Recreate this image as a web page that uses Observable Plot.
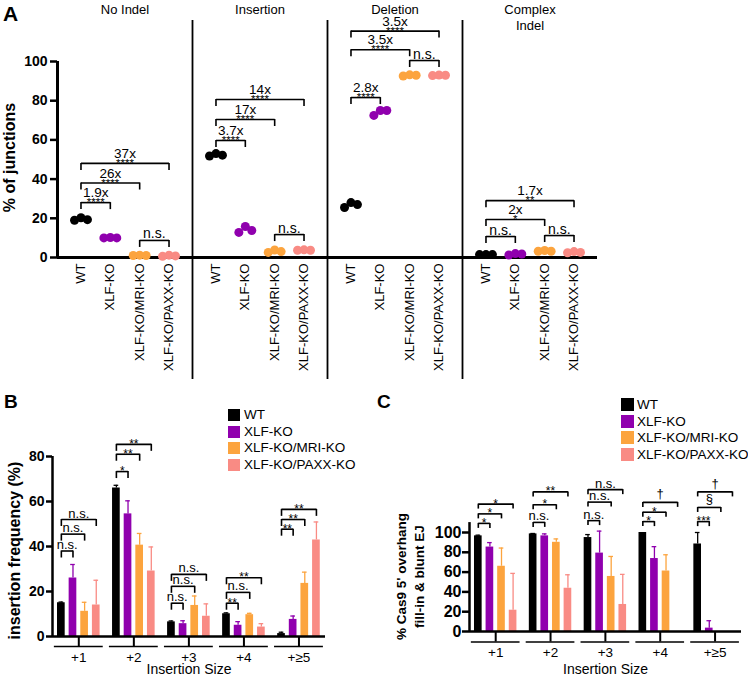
<!DOCTYPE html>
<html><head><meta charset="utf-8">
<script src="https://cdn.jsdelivr.net/npm/d3@7"></script>
<script src="https://cdn.jsdelivr.net/npm/@observablehq/plot@0.6"></script>
<style>
body{margin:0;background:#fff;}
#root{position:relative;width:748px;height:676px;overflow:hidden;font-family:"Liberation Sans",Arial,Helvetica,sans-serif;color:#000;background:#fff;}
.letter{position:absolute;font-weight:bold;line-height:1;}
.legend{position:absolute;}
.legend .item{position:absolute;left:0;display:flex;align-items:center;white-space:nowrap;line-height:12px;}
</style></head>
<body><div id="root"></div>
<script>
// ---------- shared ----------
const genotypes = ["WT", "XLF-KO", "XLF-KO/MRI-KO", "XLF-KO/PAXX-KO"];
const genotypeColors = ["#000000", "#9000AE", "#FCA43E", "#F98B84"];

// ---------- Panel A : % of junctions (3 replicates per genotype) ----------
const junctionClasses = ["No Indel", "Insertion", "Deletion", "Complex Indel"];
const noIndel      = [[19, 20.3, 19.3], [10, 10.2, 10], [1, 1.2, 1], [0.6, 1.2, 0.8]];
const insertion    = [[51.8, 53, 52.2], [12.8, 15.8, 13.8], [2.6, 3.8, 3], [3.7, 3.9, 3.7]];
const deletion     = [[25.5, 28, 27], [72.5, 75, 75], [92.6, 93.2, 93], [92.8, 93.1, 93]];
const complexIndel = [[1.5, 1.5, 1.5], [1.3, 2, 1.8], [3.2, 3.6, 3.2], [2.4, 3, 2.6]];
// comparisons (genotype index pairs) and their bracket heights / labels
const pairsA = [[0, 1], [0, 2], [0, 3], [2, 3]];
const noIndelBracketY = [28, 38, 48, 8.7];
const noIndelFold = ["1.9x", "26x", "37x", ""];
const noIndelSig = ["****", "****", "****", "n.s."];
const insertionBracketY = [59.7, 70.4, 80.6, 11.7];
const insertionFold = ["3.7x", "17x", "14x", ""];
const insertionSig = ["****", "****", "****", "n.s."];
const deletionBracketY = [81.6, 106, 115.5, 100.5];
const deletionFold = ["2.8x", "3.5x", "3.5x", ""];
const deletionSig = ["****", "****", "****", "n.s."];
const complexBracketY = [10.7, 19.4, 29, 11.2];
const complexFold = ["", "2x", "1.7x", ""];
const complexSig = ["n.s.", "*", "**", "n.s."];

// ---------- Panel B : insertion frequency (%) ----------
const insertionSizes = ["+1", "+2", "+3", "+4", "+\u22655"];
const freqMean = [
  [15, 66, 6.5, 10.1, 1.3],     // WT
  [26, 54.5, 5.7, 5, 7.6],      // XLF-KO
  [11.2, 40.6, 13.8, 9.7, 23.6],// XLF-KO/MRI-KO
  [14, 29.1, 9, 4.2, 42.9]      // XLF-KO/PAXX-KO
];
const freqSD = [
  [0.3, 1.2, 0.4, 0.4, 0.6],
  [6, 5.8, 1.3, 1.6, 1.5],
  [4, 5.2, 4.2, 0.6, 5],
  [11, 10.7, 5.5, 1.5, 8]
];
const freqBracketY = [[38, 73.3, 14.8, 14.8, 47.7], [45.5, 81, 22.3, 19.6, 52], [52, 85.4, 27.6, 26.1, 56.5]];
const freqSig = [["n.s.", "*", "n.s.", "**", "**"], ["n.s.", "**", "n.s.", "n.s.", "**"], ["n.s.", "**", "n.s.", "**", "**"]];

// ---------- Panel C : % Cas9 5' overhang fill-in & blunt EJ ----------
const fillMean = [
  [96.6, 98.6, 94.9, 100, 88.4],
  [85.3, 96.6, 79.2, 73.7, 3.4],
  [65.9, 90.1, 55.6, 61.1, null],
  [21.5, 43.7, 27.3, null, null]
];
const fillSD = [
  [0.7, 0.4, 3, 0, 11.6],
  [4.5, 2, 22.2, 12, 7.5],
  [18.4, 3.4, 20.2, 16.4, null],
  [37.2, 13.6, 30.4, null, null]
];
const fillBracketY = [[109.2, 110.2, 112, 111, 111], [118.8, 128, 130.7, 120.5, 125.3], [128.7, 141, 143.3, 130.4, 141]];
const fillSig = [["*", "n.s.", "n.s.", "*", "***"], ["*", "*", "n.s.", "*", "\u00a7"], ["*", "**", "n.s.", "\u2020", "\u2020"]];

// ---------- helpers ----------
const FONT = '"Liberation Sans", Arial, Helvetica, sans-serif';
const root = document.getElementById("root");
const color = {domain: genotypes, range: genotypeColors};
function place(node, left, top) {
  node.style.position = "absolute"; node.style.left = left + "px"; node.style.top = top + "px";
  root.appendChild(node);
}
const kind = s => s === "n.s." ? "ns" : /^\*+$/.test(s) ? "star" : "sym";
const plotStyle = {fontFamily: FONT, fontSize: "13px", background: "transparent", color: "black", overflow: "visible"};

// ---------- Panel A ----------
const classValues = [noIndel, insertion, deletion, complexIndel];
const classBracketY = [noIndelBracketY, insertionBracketY, deletionBracketY, complexBracketY];
const classFold = [noIndelFold, insertionFold, deletionFold, complexFold];
const classSig = [noIndelSig, insertionSig, deletionSig, complexSig];

const dotsA = classValues.flatMap((vals, ci) => vals.flatMap((reps, gi) =>
  reps.map((v, r) => ({cls: junctionClasses[ci], genotype: genotypes[gi], gi, r, value: v}))));
const bracketsA = junctionClasses.flatMap((cls, ci) => pairsA.map(([a, b], k) =>
  ({cls, from: a, to: b, y: classBracketY[ci][k], fold: classFold[ci][k], sig: classSig[ci][k]})));

const xA = [-0.8, 3.8];
const plotA = Plot.plot({
  width: 620, height: 380,
  marginLeft: 57, marginRight: 23, marginTop: 61, marginBottom: 123,
  style: plotStyle,
  fx: {domain: junctionClasses, padding: 0, axis: null},
  x: {domain: xA, axis: null},
  y: {domain: [0, 100], axis: null},
  color,
  marks: [
    Plot.ruleX(junctionClasses.slice(1), {fx: d => d, x: xA[0], stroke: "black", strokeWidth: 1.8, insetTop: -41, insetBottom: -122}),
    Plot.ruleX(junctionClasses.slice(0, 1), {fx: d => d, x: xA[0], y1: 0, y2: 100, stroke: "black", strokeWidth: 3}),
    Plot.ruleY([0], {stroke: "black", strokeWidth: 3}),
    Plot.axisY({ticks: d3.range(0, 101, 20), tickSize: 7, tickPadding: 3, fontSize: 14, fontWeight: "bold", strokeWidth: 2.5, label: null}),
    Plot.axisX({ticks: [0, 1, 2, 3], tickFormat: i => genotypes[i], tickRotate: -90, tickSize: 0, tickPadding: 6, fontSize: 13, label: null}),
    Plot.text(junctionClasses, {fx: d => d, text: d => d === "Complex Indel" ? "Complex\nIndel" : d,
      frameAnchor: "top", lineAnchor: "top", dy: -59, fontSize: 13, lineHeight: 1.23}),
    Plot.text(["% of junctions"], {fx: () => junctionClasses[0], text: d => d, frameAnchor: "left", textAnchor: "middle", rotate: -90,
      dx: -47.5, dy: -2, fontSize: 16, fontWeight: "bold", lineAnchor: "middle"}),
    Plot.dot(dotsA, {fx: "cls", x: d => d.gi + (d.r - 1) * 0.22, y: "value", r: 4.5, fill: "genotype"}),
    Plot.link(bracketsA, {fx: "cls", x1: "from", x2: "to", y1: "y", y2: "y", stroke: "black", strokeWidth: 1.6}),
    Plot.ruleX(bracketsA, {fx: "cls", x: "from", y1: "y", y2: "y", insetBottom: -7, stroke: "black", strokeWidth: 1.6}),
    Plot.ruleX(bracketsA, {fx: "cls", x: "to", y1: "y", y2: "y", insetBottom: -7, stroke: "black", strokeWidth: 1.6}),
    Plot.text(bracketsA.filter(d => d.fold), {fx: "cls", x: d => (d.from + d.to) / 2, y: "y", text: "fold", lineAnchor: "bottom", dy: -5.5, fontSize: 13.5}),
    Plot.text(bracketsA.filter(d => kind(d.sig) === "star"), {fx: "cls", x: d => (d.from + d.to) / 2, y: "y", text: "sig", lineAnchor: "bottom", dy: 3.5, fontSize: 11.5}),
    Plot.text(bracketsA.filter(d => kind(d.sig) === "ns"), {fx: "cls", x: d => (d.from + d.to) / 2, y: "y", text: "sig", lineAnchor: "bottom", dy: -2, fontSize: 14})
  ]
});
place(plotA, 0, 0);

// ---------- Panels B and C ----------
const GROUP_STEP = 4.73;
const xBC = [-0.76, 22.7];
const groupCenters = insertionSizes.map((s, g) => g * GROUP_STEP + 1.5);

function barPanel(o) {
  const rows = genotypes.flatMap((gt, j) => insertionSizes.map((s, g) =>
    ({genotype: gt, j, g, pos: g * GROUP_STEP + j, mean: o.means[j][g], sd: o.sds[j][g]}))).filter(d => d.mean != null);
  const errs = rows.filter(d => d.sd > 0);
  const brackets = o.bracketY.flatMap((ys, k) => ys.map((y, g) =>
    ({from: g * GROUP_STEP, to: g * GROUP_STEP + k + 1, y, sig: o.sig[k][g]})));
  const mid = d => (d.from + d.to) / 2;
  return Plot.plot({
    width: o.width, height: o.height,
    marginLeft: o.marginLeft, marginRight: o.marginRight, marginTop: o.marginTop, marginBottom: o.marginBottom,
    style: plotStyle,
    x: {domain: xBC, axis: null},
    y: {domain: o.yDomain, axis: null},
    color,
    marks: [
      Plot.rectY(rows, {x1: d => d.pos - 0.33, x2: d => d.pos + 0.33, y: "mean", fill: "genotype"}),
      Plot.ruleX(errs, {x: "pos", y1: "mean", y2: d => d.mean + d.sd, stroke: "genotype", strokeWidth: 1.3}),
      Plot.ruleY(errs, {x1: d => d.pos - 0.2, x2: d => d.pos + 0.2, y: d => d.mean + d.sd, stroke: "genotype", strokeWidth: 1.3}),
      Plot.ruleY([0], {stroke: "black", strokeWidth: 2.5}),
      Plot.ruleX([xBC[0]], {x: d => d, y1: 0, y2: o.axisTop, stroke: "black", strokeWidth: 2.5}),
      Plot.axisY({ticks: o.yTicks, tickSize: o.tickLen, tickPadding: o.tickPad, fontSize: o.tickFont, fontWeight: "bold", strokeWidth: 2.5, label: null}),
      Plot.ruleX(groupCenters, {x: d => d, y1: 0, y2: 0, insetBottom: -o.segGap, stroke: "black", strokeWidth: 2}),
      Plot.ruleY(groupCenters, {x1: d => d - 2.1, x2: d => d + 2.1, y: 0, dy: o.segGap, stroke: "black", strokeWidth: 1.3}),
      Plot.axisX({ticks: groupCenters, tickFormat: v => insertionSizes[groupCenters.indexOf(v)], tickSize: 0, tickPadding: o.groupPad, fontSize: 13.5, label: null}),
      Plot.text(["Insertion Size"], {text: d => d, frameAnchor: "bottom", lineAnchor: "bottom", dy: o.titleDy, fontSize: 14}),
      Plot.text([o.yLabel], {text: d => d, frameAnchor: "left", textAnchor: "middle", rotate: -90, dx: o.yLabelDx, dy: o.yLabelDy,
        fontSize: o.yLabelSize, fontWeight: "bold", lineAnchor: "middle", lineHeight: 1.3}),
      Plot.link(brackets, {x1: "from", x2: "to", y1: "y", y2: "y", stroke: "black", strokeWidth: 1.6}),
      Plot.ruleX(brackets, {x: "from", y1: "y", y2: "y", insetBottom: -o.bracketTick, stroke: "black", strokeWidth: 1.6}),
      Plot.ruleX(brackets, {x: "to", y1: "y", y2: "y", insetBottom: -o.bracketTick, stroke: "black", strokeWidth: 1.6}),
      Plot.text(brackets.filter(d => kind(d.sig) === "ns"), {x: mid, y: "y", text: "sig", lineAnchor: "bottom", dy: -2, fontSize: 13}),
      Plot.text(brackets.filter(d => kind(d.sig) === "star"), {x: mid, y: "y", text: "sig", lineAnchor: "bottom", dy: 3.5, fontSize: 12}),
      Plot.text(brackets.filter(d => kind(d.sig) === "sym"), {x: mid, y: "y", text: "sig", lineAnchor: "bottom", dy: -4, fontSize: 13})
    ]
  });
}

const plotB = barPanel({
  means: freqMean, sds: freqSD, bracketY: freqBracketY, sig: freqSig,
  width: 374, height: 296, marginLeft: 52, marginRight: 49, marginTop: 76, marginBottom: 40,
  yDomain: [0, 80], yTicks: d3.range(0, 81, 20), axisTop: 80,
  tickLen: 6, tickPad: 2, tickFont: 14, bracketTick: 7, segGap: 10, groupPad: 15.5, titleDy: 37.5,
  yLabel: "insertion frequency (%)", yLabelDx: -39.5, yLabelDy: 4, yLabelSize: 16
});
place(plotB, 0, 380);

const plotC = barPanel({
  means: fillMean, sds: fillSD, bracketY: fillBracketY, sig: fillSig,
  width: 374, height: 296, marginLeft: 95, marginRight: 7, marginTop: 152, marginBottom: 45,
  yDomain: [0, 100], yTicks: d3.range(0, 101, 20), axisTop: 110,
  tickLen: 7, tickPad: 1, tickFont: 16, bracketTick: 5, segGap: 10.5, groupPad: 16, titleDy: 42.5,
  yLabel: "% Cas9 5' overhang\nfill-in & blunt EJ", yLabelDx: -60.25, yLabelDy: -5.5, yLabelSize: 13.5
});
place(plotC, 374, 380);

// ---------- legends ----------
function legend(left, top, sw, gap, step) {
  const div = document.createElement("div");
  div.className = "legend";
  genotypes.forEach((g, i) => {
    const item = document.createElement("div");
    item.className = "item";
    item.style.top = (i * step) + "px";
    item.style.height = sw + "px";
    const box = document.createElement("span");
    box.style.cssText = `display:inline-block;width:${sw}px;height:${sw}px;background:${genotypeColors[i]};margin-right:${gap}px;`;
    const label = document.createElement("span");
    label.textContent = g;
    label.style.cssText = `font-size:13.5px;line-height:${sw}px;`;
    item.append(box, label);
    div.appendChild(item);
  });
  place(div, left, top);
}
legend(228, 409, 12, 4, 16.5);
legend(621, 398, 13, 3, 16.5);

// ---------- panel letters ----------
function letter(t, left, top, size) {
  const d = document.createElement("div");
  d.className = "letter"; d.textContent = t; d.style.fontSize = size + "px";
  place(d, left, top);
}
letter("A", 3, 3, 21);
letter("B", 4, 392, 19);
letter("C", 377, 392, 19);
</script>
</body></html>
